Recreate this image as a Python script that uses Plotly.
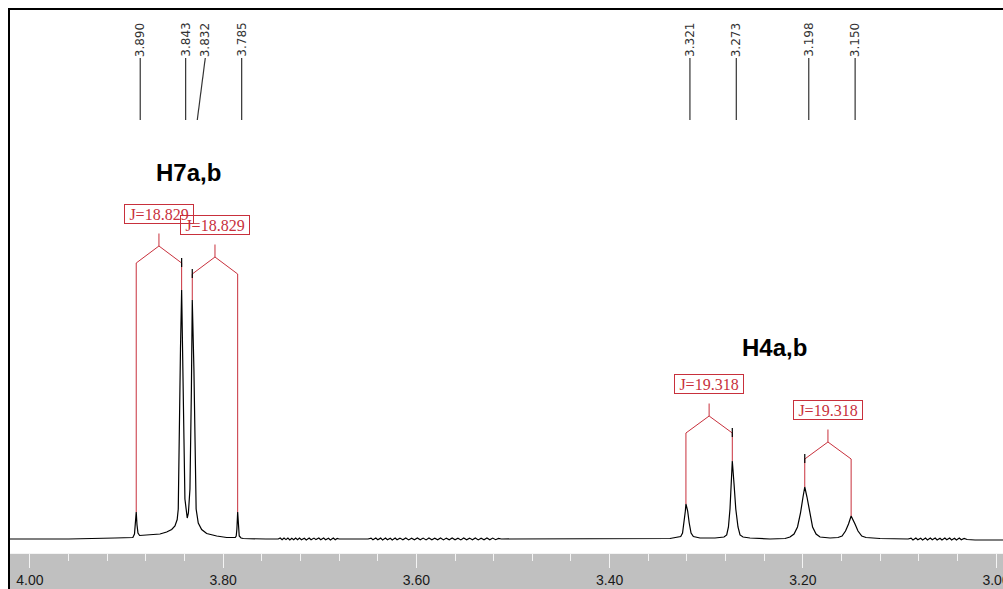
import plotly.graph_objects as go

# ---------------- data ----------------
# 1H NMR trace: chemical shift (ppm) and intensity (arbitrary units, baseline = 0)
ppm = [
    4.022, 3.960, 3.912, 3.8935, 3.8918, 3.8908, 3.890, 3.8892, 3.8882, 3.8865,
    3.8758, 3.8654, 3.8585, 3.8533, 3.8499, 3.8476, 3.8465, 3.8458, 3.8442, 3.843,
    3.8422, 3.8406, 3.8396, 3.8380, 3.8372, 3.8360, 3.8344, 3.8329, 3.832, 3.8303,
    3.8292, 3.8280, 3.8258, 3.8223, 3.8171, 3.8067, 3.7964, 3.7875, 3.7865, 3.7858,
    3.785, 3.7842, 3.7834, 3.7815, 3.7792, 3.7557,
    3.743, 3.741, 3.739, 3.737, 3.735, 3.733, 3.731, 3.729, 3.727, 3.725,
    3.723, 3.721, 3.719, 3.716, 3.714, 3.711, 3.709, 3.706, 3.704, 3.701,
    3.699, 3.696, 3.694, 3.691, 3.689, 3.686, 3.684, 3.682, 3.680, 3.665,
    3.650, 3.647, 3.645, 3.642, 3.640, 3.637, 3.635, 3.632, 3.630, 3.627,
    3.625, 3.622, 3.620, 3.617, 3.614, 3.611, 3.608, 3.605, 3.602, 3.599,
    3.596, 3.593, 3.590, 3.587, 3.584, 3.581, 3.578, 3.575, 3.572, 3.569,
    3.566, 3.563, 3.560, 3.557, 3.554, 3.551, 3.548, 3.545, 3.542, 3.539,
    3.536, 3.533, 3.530, 3.527, 3.524, 3.521, 3.518, 3.515, 3.512,
    3.3375, 3.3292, 3.3264, 3.3245, 3.3230, 3.3216, 3.321, 3.3192, 3.3176, 3.3157,
    3.3133, 3.3064, 3.2909, 3.2816, 3.2788, 3.2770, 3.2754, 3.2743, 3.273, 3.2712,
    3.2694, 3.2671, 3.2650, 3.2619, 3.2547, 3.2340,
    3.2184, 3.2133, 3.2091, 3.2055, 3.2024, 3.1998, 3.198, 3.1957, 3.1930, 3.1899,
    3.1863, 3.1822, 3.1718, 3.1636, 3.1594, 3.1558, 3.1527, 3.150, 3.1460, 3.1429,
    3.1390, 3.1346, 3.1201,
    3.091, 3.088, 3.086, 3.083, 3.081, 3.078, 3.076, 3.073, 3.071, 3.068,
    3.066, 3.063, 3.061, 3.058, 3.056, 3.053, 3.051, 3.048, 3.046, 3.043,
    3.041, 3.038, 3.036, 3.033, 3.030, 3.0217, 2.9928,
]
intensity = [
    0, 0, 1, 1.5, 5, 14, 27, 14, 6, 3.5,
    4, 5, 7, 9.5, 13, 19.5, 30, 100, 190, 249,
    180, 100, 40, 24, 21, 26, 50, 150, 239, 170,
    90, 30, 16, 9.5, 5.5, 3, 1.5, 1.5, 3, 10,
    27, 10, 3, 1, 0.5, 0,
    0, 1, -0.8, 0.9, -0.6, 1, -0.9, 0.7, -0.7, 1,
    -0.8, 0.9, -0.7, 0.8, -0.9, 1, -0.8, 0.9, -0.6, 1,
    -0.8, 0.9, -0.7, 0.8, -0.9, 1, -0.7, 0.6, 0, 0,
    0, 0.9, -0.8, 1, -0.7, 0.9, -0.9, 1, -0.8, 0.8,
    -0.9, 1, -0.7, 0.9, -0.8, 1, -0.9, 0.8, -0.7, 1,
    -0.8, 0.9, -0.9, 1, -0.7, 0.8, -0.8, 1, -0.9, 0.9,
    -0.7, 1, -0.8, 0.8, -0.9, 1, -0.7, 0.9, -0.8, 1,
    -0.9, 0.8, -0.7, 1, -0.8, 0.9, -0.7, 0.6, 0,
    0.5, 1.5, 2.5, 6, 16, 28, 35, 28, 16, 6,
    2.5, 1, 1, 2, 4, 12, 30, 55, 78, 55,
    30, 12, 4, 2, 1, 0,
    0.5, 2, 5, 12, 26, 42, 52, 42, 26, 12,
    5, 2, 1, 1.5, 3, 8, 15, 23, 15, 8,
    3, 1.5, 0.5,
    0, 0.9, -0.9, 1, -0.8, 0.8, -1, 0.9, -0.9, 1,
    -0.8, 0.9, -1, 0.8, -0.9, 1, -0.8, 0.9, -1, 0.8,
    -0.9, 1, -0.8, 0.6, -0.5, -1, -1,
]

# picked peaks (ppm)
peak_labels = [3.890, 3.843, 3.832, 3.785, 3.321, 3.273, 3.198, 3.150]
# coupling pairs and their J values (Hz)
j_pairs = [(3.890, 3.843), (3.832, 3.785), (3.321, 3.273), (3.198, 3.150)]
j_values = [18.829, 18.829, 19.318, 19.318]
# assignment labels
group_names = ["H7a,b", "H4a,b"]
group_pos = [(3.836, 367), (3.229, 192)]

# ---------------- layout settings ----------------
W, H = 1003, 589
M_L, M_R, M_T, M_B = 9, 0, 9, 36
PLOT_H = H - M_T - M_B
X_RANGE = [4.0217, 2.9928]
Y_RANGE = [-14, 530]
RED = "#c8303c"
bracket_shoulder = [276, 265, 106, 80]   # height of bracket shoulders
tick_side = [1, 0, 1, 0]                  # which end gets the short black tick
label_shift_bottom = [4, 4, 5, 4, 4, 4, 4, 4]   # px shift of peak-label lines
label_shift_top = [4, 4, 13, 4, 4, 4, 4, 4]

def py(px_from_top):
    return (H - M_B - px_from_top) / PLOT_H

height_at = dict(zip(ppm, intensity))

fig = go.Figure()
fig.add_trace(go.Scatter(x=ppm, y=intensity, mode="lines",
                         line=dict(color="black", width=1.2),
                         hoverinfo="skip", showlegend=False))

shapes = []
annotations = []

# gray axis band
shapes.append(dict(type="rect", xref="paper", yref="paper", x0=0, x1=1,
                   y0=-M_B / PLOT_H, y1=0, fillcolor="#c0c0c0",
                   line=dict(width=0), layer="below"))
# frame lines (top & left)
shapes.append(dict(type="line", xref="paper", yref="paper", x0=0, x1=1.01,
                   y0=1, y1=1, line=dict(color="black", width=2)))
shapes.append(dict(type="line", xref="paper", yref="paper", x0=0, x1=0,
                   y0=-M_B / PLOT_H, y1=1.002, line=dict(color="black", width=2)))

# peak labels at top
for i, p in enumerate(peak_labels):
    shapes.append(dict(type="line", xref="x", yref="paper", xsizemode="pixel",
                       xanchor=p, x0=label_shift_bottom[i], x1=label_shift_top[i],
                       y0=py(120), y1=py(58),
                       line=dict(color="#333333", width=1.2)))
    annotations.append(dict(x=p, xref="x", y=py(21), yref="paper",
                            xshift=label_shift_top[i], text=f"{p:.3f}",
                            textangle=-90, showarrow=False,
                            font=dict(family="DejaVu Sans", size=12, color="#333333")))

# J brackets
for k, (a, b) in enumerate(j_pairs):
    s = bracket_shoulder[k]
    apex = s + 17
    stem = apex + 12.5
    mid = (a + b) / 2
    line = dict(color=RED, width=1)
    shapes.append(dict(type="line", x0=a, x1=a, y0=height_at[a], y1=s, line=line))
    shapes.append(dict(type="line", x0=b, x1=b, y0=height_at[b], y1=s, line=line))
    shapes.append(dict(type="path", path=f"M {a},{s} L {mid},{apex} L {b},{s}", line=line))
    shapes.append(dict(type="line", x0=mid, x1=mid, y0=apex, y1=stem, line=line))
    t = b if tick_side[k] == 1 else a
    shapes.append(dict(type="line", x0=t, x1=t, y0=s - 4, y1=s + 5,
                       line=dict(color="black", width=1.2)))
    annotations.append(dict(x=mid, y=stem + 20, xref="x", yref="y",
                            text=f"J={j_values[k]:.3f}", showarrow=False,
                            width=68, height=18, borderpad=0, borderwidth=1,
                            bordercolor=RED, bgcolor="rgba(0,0,0,0)",
                            font=dict(family="Liberation Serif", size=16, color=RED)))

for name, (gx, gy) in zip(group_names, group_pos):
    annotations.append(dict(x=gx, y=gy, xref="x", yref="y", text=f"<b>{name}</b>",
                            showarrow=False,
                            font=dict(family="Liberation Sans", size=24, color="black")))

fig.update_layout(
    width=W, height=H, autosize=False,
    margin=dict(l=M_L, r=M_R, t=M_T, b=M_B, pad=0, autoexpand=False),
    paper_bgcolor="white", plot_bgcolor="white",
    shapes=shapes, annotations=annotations,
    xaxis=dict(range=X_RANGE, showgrid=False, zeroline=False, automargin=False,
               tickmode="linear", tick0=3.0, dtick=0.2, tickformat=".2f",
               ticks="outside", ticklen=14, tickwidth=1, tickcolor="#f4f4f4",
               minor=dict(dtick=0.04, tick0=3.0, ticks="outside", ticklen=7,
                          tickwidth=1, tickcolor="#f4f4f4", showgrid=False),
               showline=True, linecolor="#f4f4f4", linewidth=1,
               ticklabeloverflow="allow",
               tickfont=dict(family="Liberation Sans Narrow, Liberation Sans",
                             size=14, color="#1a1a1a")),
    yaxis=dict(range=Y_RANGE, visible=False, fixedrange=True, automargin=False),
    showlegend=False,
)

fig.write_html(
    "out.html",
    config={"displayModeBar": False},
    post_script="document.body.style.margin='0';document.body.style.overflow='hidden';",
)
